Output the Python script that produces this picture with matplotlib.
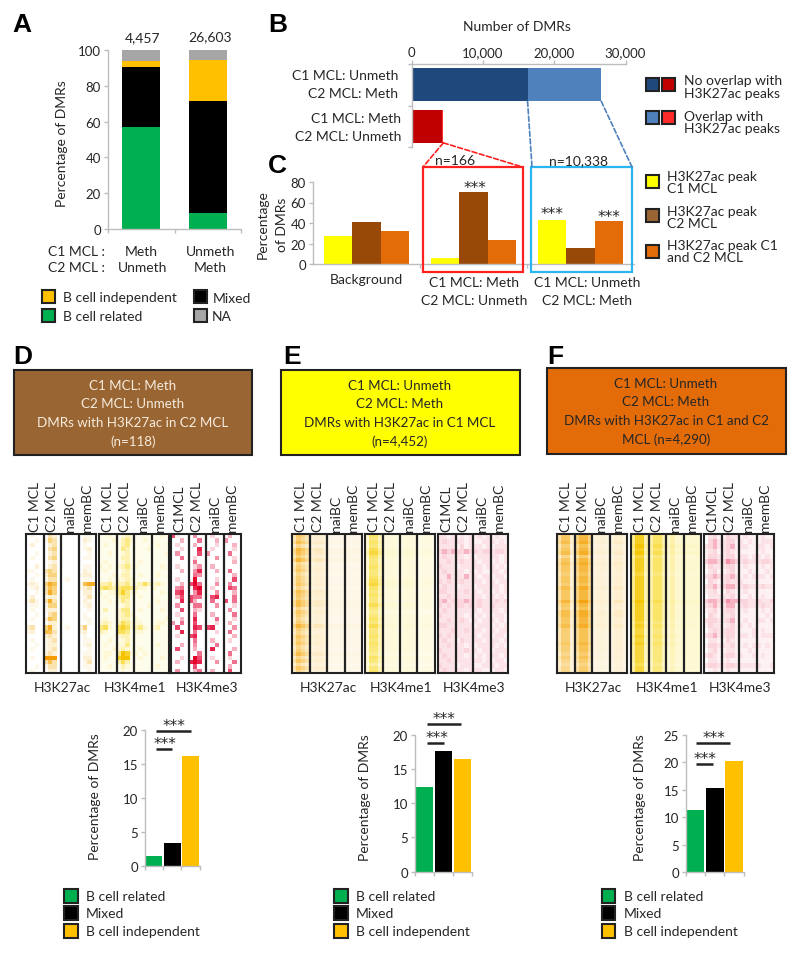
import numpy as np
import matplotlib
matplotlib.use('Agg')
import matplotlib.pyplot as plt
from matplotlib.colors import LinearSegmentedColormap
from matplotlib.patches import Rectangle, ConnectionPatch

plt.rcParams['font.family'] = ['Lato', 'DejaVu Sans']

W, H = 800, 954
TXT = '#262626'
AXC = '#BDBDBD'
GREEN, BLACK, GOLD, GRAY = '#00B050', '#000000', '#FFC000', '#A6A6A6'
YEL, BROWN, ORNG = '#FFFF00', '#984807', '#E36C09'

# Panel A
a_related = [57.2, 8.8]
a_mixed = [33.5, 62.5]
a_indep = [3.3, 23.3]
a_na = [6.0, 5.4]
a_totals = ['4,457', '26,603']

# Panel B
b_no_overlap = [16265, 4291]
b_overlap = [10338, 166]
b_ticks = [0, 10000, 20000, 30000]
b_ticklabels = ['0', '10,000', '20,000', '30,000']

# Panel C
c_peak_c1 = [27.2, 5.8, 43.4]
c_peak_c2 = [40.8, 70.6, 15.5]
c_peak_both = [31.8, 23.3, 41.5]

# bottom bars
d_bars = [1.46, 3.37, 16.2]
e_bars = [12.36, 17.57, 16.5]
f_bars = [11.26, 15.25, 20.16]

# heatmap cells for panel D, 4 cells across each of the 4 tracks, read by eye
D_K27AC = [
    "0100 0320 0000 0110", "0010 1430 0000 0210", "0200 0230 0000 0100", "0000 0340 0000 0120",
    "0010 0230 0000 0010", "0100 0340 0000 0110", "0000 0120 0000 0000", "0020 0230 0000 0110",
    "1100 3430 0000 0210", "0010 2440 0000 1220", "0100 1330 0100 0110", "1210 4650 0000 1566",
    "0120 3540 0000 1230", "0010 3640 0000 0220", "0200 1220 0000 0130", "1310 3630 0000 0210",
    "0110 1440 0000 0120", "0100 1220 0000 0010", "0010 0340 0000 0100", "0100 2540 0000 0110",
    "0000 0220 0000 0010", "2300 4620 0100 2400", "1200 5530 0000 1200", "0000 2320 0000 0100",
    "0100 1230 0000 0110", "0010 1220 0000 0120", "0100 1230 0000 0010", "0000 2320 0000 0110",
    "0100 7970 0000 0220", "0000 3530 0000 0130", "0010 1330 0000 0110", "0100 0220 0000 0010",
]
D_K4ME1 = [
    "1121 1232 1111 1121", "1112 1342 1121 1111", "1211 1341 1111 1211", "1111 1431 1112 1111",
    "1121 1231 1111 1112", "1111 1331 1111 1111", "1211 1231 1211 1111", "2121 2342 2111 1121",
    "1211 1231 1111 1111", "1112 1331 1211 1211", "1121 2232 1111 1111", "3342 3342 2353 2321",
    "4543 4554 3221 2111", "2122 4642 2111 1121", "1211 3441 1211 1111", "1121 2431 1111 1211",
    "1111 1231 1112 1111", "1311 2441 1211 1121", "1111 2342 1111 1111", "1211 2331 2111 1112",
    "2321 3542 2211 1221", "4521 5652 3421 2311", "3211 5541 2211 1111", "1111 2331 1111 1111",
    "1121 1231 1111 1111", "1211 2241 1111 1211", "1112 2321 1211 1111", "1221 4762 2121 1111",
    "1211 6871 1211 1121", "1111 3531 1111 1111", "1121 1321 1111 1211", "1111 1211 1111 1111",
]
D_K4ME3 = [
    "7100 0500 0300 0400", "0040 0060 0040 5000", "0300 0400 0030 0040", "0030 0080 0300 0030",
    "0500 0070 5000 0600", "0060 0300 0050 0030", "0000 0600 0000 0040", "0300 0350 0400 0000",
    "0040 0580 0040 0600", "0000 0650 0000 0040", "0300 0900 0030 0070", "0040 7960 0050 0500",
    "0560 0890 0300 0760", "0780 0580 0050 0040", "0470 7660 0780 0060", "0080 7400 0600 7060",
    "0500 0660 0050 0030", "0070 0430 0000 0500", "0300 0600 0400 0060", "0040 0800 0060 0030",
    "5060 0700 0030 0400", "0700 0870 7800 0050", "0080 0600 0030 0600", "0300 7800 0000 0040",
    "0000 0600 0400 0300", "0040 0500 0060 0000", "0700 0400 0800 0040", "0000 0060 0000 0600",
    "0030 0970 0300 0300", "0400 8980 0050 0060", "0000 0700 0000 0400", "0500 0460 0400 0700",
]

# panels E and F, level across the tracks and strength down the rows
E_K27AC_COLS = [4, 6, 5, 4, 2.5, 3, 3, 2.5, 1.5, 1.5, 1.5, 1.5, 1.5, 1.5, 1.5, 1.5]
E_K27AC_ROWS = [1.0, .9, 1.1, .8, 1.2, 1.1, .9, 1.2, .8, .9, 1.0, .8, .9, .9, 1.0, .8, 1.1, 1.0, .9, 1.1,
                1.1, .8, 1.0, .9, .8, .9, 1.2, .9, .8, 1.0, .9, 1.0, .8, .9, 1.1, .8, 1.0, .7, 1.0, .8]
E_K4ME1_COLS = [3, 6, 6, 4, 2, 2.5, 2.5, 2, 2, 2.5, 2.5, 2, 1.5, 2, 2, 1.5]
E_K4ME1_ROWS = [1.0, .9, 1.0, .9, 1.1, 1.2, 1.0, .9, .9, 1.0, .9, .9, 1.0, 1.1, 1.2, 1.0, .9, 1.0, .9, .9,
                1.1, .9, .8, .9, 1.0, .9, 1.1, .9, .9, 1.0, .9, 1.0, .9, .9, .8, 1.0, .9, .7, .9, 1.0]
F_K27AC_COLS = [4, 6, 6, 3, 5, 7, 7, 5, 2, 2.5, 2.5, 2, 2, 3, 3, 2]
F_K27AC_ROWS = [1.0, 1.0, 1.1, .9, 1.0, 1.1, .8, 1.0, 1.1, 1.0, 1.0, .9, 1.0, 1.0, .9, 1.1, 1.0, 1.0, 1.0, 1.2,
                1.0, .9, 1.1, 1.1, 1.0, 1.0, 1.1, .9, .9, .9, .9, 1.0, .9, .9, .8, .9, .8, .7, .8, .8]
F_K4ME1_COLS = [5, 8, 8, 4, 4, 6, 6, 4, 3, 4, 3, 3, 3, 3, 3, 3]
F_K4ME1_ROWS = [1.0, 1.0, 1.0, 1.1, 1.0, 1.1, .9, 1.0, 1.0, 1.0, 1.0, .9, 1.0, 1.0, 1.0, 1.0, 1.0, 1.0, 1.0, 1.1,
                1.0, 1.0, 1.0, 1.0, 1.0, .9, 1.0, .9, .9, 1.0, .9, 1.0, .9, .9, .9, .9, .9, .8, .9, .9]
E_K4ME3 = [
    "2212 1212 1212 1211", "2322 2212 1122 2121", "2222 1312 2212 1222", "3434 3343 3233 2332",
    "2322 2212 1222 2212", "2232 2322 2122 1212", "3222 1222 2212 2121", "2322 2212 1211 2212",
    "2242 2242 2122 1221", "3232 2322 2212 2122", "2322 1222 1222 2212", "3322 2232 2122 1212",
    "2232 2222 2212 2121", "3423 3343 2322 2323", "3232 3323 2322 3222", "2322 2222 2122 2212",
    "3222 2212 1212 1221", "2232 2321 2122 2121", "3322 2222 1222 1212", "2223 2232 2212 2122",
    "3232 2222 2122 1221", "2322 1322 2212 2212", "2232 2212 1222 2121", "3222 2232 2122 1222",
    "2322 2212 1212 2212", "2232 2222 2212 1221", "3222 1222 1122 2122", "2322 2212 2211 1221",
]
F_K4ME3 = [
    "0231 1322 1211 1211", "0342 2331 2121 1222", "2342 2341 2211 2212", "1231 2321 1111 1211",
    "1332 2331 2212 2121", "3443 3543 2322 2332", "1322 2331 1211 1212", "0231 1231 1121 1121",
    "2343 2342 1212 2212", "0321 2322 2111 1111", "2342 3442 2322 2322", "1231 1321 1211 1111",
    "0222 2231 1121 1211", "3443 3544 3322 3223", "2342 2441 2322 2322", "1231 2331 1211 1212",
    "0321 2231 1111 1121", "2332 2341 1211 2212", "1322 1231 2121 1111", "0232 2331 1112 1211",
    "2342 2331 2212 1222", "0221 1321 1111 1111", "1332 2231 1212 2121", "0231 1221 1121 1111",
    "2321 2331 2112 1211", "0221 1211 1111 1111", "2332 2332 2222 2112", "0121 1211 1111 1111",
]

blocks = ['H3K27ac', 'H3K4me1', 'H3K4me3']
track_names = [['C1 MCL', 'C2 MCL', 'naiBC', 'memBC'],
               ['C1 MCL', 'C2 MCL', 'naiBC', 'memBC'],
               ['C1MCL', 'C2 MCL', 'naiBC', 'memBC']]

cmaps = [LinearSegmentedColormap.from_list('k27', ['#FFFFFF', '#FDEFCF', '#F9C860', '#F59A00']),
         LinearSegmentedColormap.from_list('k4m1', ['#FFFFFF', '#FEF8D0', '#FBE568', '#F5C400']),
         LinearSegmentedColormap.from_list('k4m3', ['#FFFFFF', '#FBD5DC', '#F07090', '#E4002B'])]


def digits(rows):
    return np.array([[int(c) for c in r.replace(' ', '')] for r in rows], dtype=float)


def product(cols, rows):
    return np.outer(rows, cols)


def ax_px(x0, y0, x1, y1):
    return fig.add_axes([x0 / W, 1 - y1 / H, (x1 - x0) / W, (y1 - y0) / H])


def clean(ax, sides=('left', 'bottom')):
    for s in ax.spines:
        ax.spines[s].set_visible(s in sides)
        ax.spines[s].set_color(AXC)
        ax.spines[s].set_linewidth(1.0)
    ax.tick_params(color=AXC, labelcolor=TXT, labelsize=9.5, length=3, width=1, pad=2)


fig = plt.figure(figsize=(W / 100, H / 100), dpi=100)
ov = fig.add_axes([0, 0, 1, 1], zorder=10)
ov.set_xlim(0, W)
ov.set_ylim(H, 0)
ov.axis('off')
ov.patch.set_alpha(0)


def txt(x, y, s, ha='left', size=10, color=TXT, **kw):
    ov.text(x, y, s, ha=ha, va='center', fontsize=size, color=color, **kw)


def swatch(x, y, color, w=13, h=13):
    ov.add_patch(Rectangle((x, y), w, h, facecolor=color, edgecolor='#222222', lw=1.5))


def stars(x, y):
    # drop the glyph a bit, it sits high in the line
    txt(x, y + 1.5, '***', ha='center', size=11, family='DejaVu Sans')


for lab, x, y in [('A', 12, 25), ('B', 268, 25), ('C', 268, 166), ('D', 13, 357), ('E', 283, 357), ('F', 547, 357)]:
    txt(x, y, lab, size=19, color='black', fontweight='bold', family='Liberation Sans')

# A
ax = ax_px(108, 51, 241, 230)
pos = np.arange(2)
bottom = np.zeros(2)
for vals, col in [(a_related, GREEN), (a_mixed, BLACK), (a_indep, GOLD), (a_na, GRAY)]:
    ax.bar(pos, vals, 0.57, bottom=bottom, color=col)
    bottom += np.array(vals)
ax.set_xlim(-0.5, 1.5)
ax.set_ylim(0, 100)
ax.set_yticks([0, 20, 40, 60, 80, 100])
ax.set_xticks([-0.5, 0.5, 1.5])
ax.set_xticklabels([])
clean(ax)
txt(62, 144, 'Percentage of DMRs', ha='center', rotation=90)
txt(143, 38, a_totals[0], ha='center')
txt(210, 37, a_totals[1], ha='center')
txt(48, 252, 'C1 MCL :')
txt(48, 268, 'C2 MCL :')
txt(141, 252, 'Meth', ha='center')
txt(143, 268, 'Unmeth', ha='center')
txt(211, 252, 'Unmeth', ha='center')
txt(210, 268, 'Meth', ha='center')
swatch(42, 291, GOLD)
swatch(42, 310, GREEN)
swatch(193.5, 291, BLACK)
swatch(193.5, 310, GRAY)
txt(63, 298, 'B cell independent')
txt(63, 317, 'B cell related')
txt(213, 299, 'Mixed')
txt(212, 317, 'NA')

# B
ax_b = ax_px(411.6, 65, 625.5, 148)
ax_b.barh([0, 1], b_no_overlap, 0.8, color=['#1F497D', '#C00000'])
ax_b.barh([0, 1], b_overlap, 0.8, left=b_no_overlap, color=['#4F81BD', '#FF2A2A'])
ax_b.set_xlim(0, 30000)
ax_b.set_ylim(1.5, -0.5)
ax_b.set_xticks(b_ticks)
ax_b.set_xticklabels(b_ticklabels)
ax_b.set_yticks([-0.5, 0.5, 1.5])
ax_b.set_yticklabels([])
clean(ax_b, ('left', 'top'))
ax_b.xaxis.tick_top()
ax_b.tick_params(axis='x', pad=1)
txt(517, 27, 'Number of DMRs', ha='center')
txt(398, 76, 'C1 MCL: Unmeth', ha='right')
txt(398, 94, 'C2 MCL: Meth', ha='right')
txt(401, 119, 'C1 MCL: Meth', ha='right')
txt(401, 137, 'C2 MCL: Unmeth', ha='right')
swatch(645.5, 79, '#1F497D')
swatch(662, 79, '#C00000')
swatch(645.5, 112, '#4F81BD')
swatch(662, 112, '#FF2A2A')
for y, s in [(81, 'No overlap with'), (94, 'H3K27ac peaks'), (117, 'Overlap with'), (129, 'H3K27ac peaks')]:
    txt(684, y, s)

# C
ax_c = ax_px(313, 183, 634, 265)
pos = np.arange(3)
for off, vals, col in [(-0.267, c_peak_c1, YEL), (0, c_peak_c2, BROWN), (0.267, c_peak_both, ORNG)]:
    ax_c.bar(pos + off, vals, 0.267, color=col)
ax_c.set_xlim(-0.5, 2.5)
ax_c.set_ylim(0, 80)
ax_c.set_yticks([0, 20, 40, 60, 80])
ax_c.set_xticks([0.5, 1.5])
ax_c.set_xticklabels([])
clean(ax_c)
txt(263, 225, 'Percentage', ha='center', rotation=90)
txt(282, 225, 'of DMRs', ha='center', rotation=90)
txt(366, 280, 'Background', ha='center')
txt(474, 283, 'C1 MCL: Meth', ha='center')
txt(474, 301, 'C2 MCL: Unmeth', ha='center')
txt(587, 283, 'C1 MCL: Unmeth', ha='center')
txt(587, 301, 'C2 MCL: Meth', ha='center')
txt(455, 161, 'n=166', ha='center')
txt(579, 161, 'n=10,338', ha='center')
for x, y in [(475, 187), (552, 213), (609, 216)]:
    stars(x, y)
ov.add_patch(Rectangle((423, 168), 99.5, 105, fill=False, edgecolor='#FF2020', lw=1.6))
ov.add_patch(Rectangle((531, 168), 101, 105, fill=False, edgecolor='#29B5F0', lw=1.6))
y_top = 0.4
y_bot = 1.4
links = [((sum([b_no_overlap[1], b_overlap[1]]), y_bot), (423, 168), '#FF2020'),
         ((sum([b_no_overlap[1], b_overlap[1]]), y_bot), (522.5, 168), '#FF2020'),
         ((b_no_overlap[0], y_top), (532, 168), '#4F81BD'),
         ((b_no_overlap[0] + b_overlap[0], y_top), (632, 168), '#4F81BD')]
for xy_a, xy_b, col in links:
    ov.add_artist(ConnectionPatch(xy_a, xy_b, coordsA=ax_b.transData, coordsB=ov.transData,
                                  color=col, lw=1.2, linestyle=(0, (3, 1.5))))
swatch(646, 176, YEL)
swatch(646, 209.5, '#996633')
swatch(646, 246, ORNG)
for y, s in [(177, 'H3K27ac peak'), (189, 'C1 MCL'), (212, 'H3K27ac peak'), (224, 'C2 MCL'),
             (246, 'H3K27ac peak C1'), (258, 'and C2 MCL')]:
    txt(667, y, s)

# headers
headers = [(13.5, 371, 238.5, 85, '#996633', '#F7EBDD',
            ['C1 MCL: Meth', 'C2 MCL: Unmeth', 'DMRs with H3K27ac in C2 MCL', '(n=118)'], 133),
           (281, 371, 239, 85, '#FFFF00', '#262626',
            ['C1 MCL: Unmeth', 'C2 MCL: Meth', 'DMRs with H3K27ac in C1 MCL', '(n=4,452)'], 400),
           (547, 369, 239, 86, ORNG, '#262626',
            ['C1 MCL: Unmeth', 'C2 MCL: Meth', 'DMRs with H3K27ac in C1 and C2', 'MCL (n=4,290)'], 666)]
for x, y, w, h, fc, tc, lines, cx in headers:
    ov.add_patch(Rectangle((x, y), w, h, facecolor=fc, edgecolor='#222222', lw=1.5))
    for i, s in enumerate(lines):
        txt(cx, y + 15 + i * 18.5, s, ha='center', color=tc, size=9.6)

# heatmaps, panel D is sparse so its colour scale tops out lower
panels = [
    ([26, 99, 171], [digits(D_K27AC), digits(D_K4ME1), digits(D_K4ME3)], [7, 7, 9]),
    ([292, 365, 438], [product(E_K27AC_COLS, E_K27AC_ROWS), product(E_K4ME1_COLS, E_K4ME1_ROWS), digits(E_K4ME3)], [9, 9, 9]),
    ([557, 631, 704], [product(F_K27AC_COLS, F_K27AC_ROWS), product(F_K4ME1_COLS, F_K4ME1_ROWS), digits(F_K4ME3)], [9, 9, 9]),
]
for lefts, grids, tops in panels:
    for b, (x0, grid) in enumerate(zip(lefts, grids)):
        hm = ax_px(x0, 535, x0 + 70, 674)
        hm.imshow(grid, cmap=cmaps[b], vmin=0, vmax=tops[b], aspect='auto', interpolation='nearest',
                  extent=(0, 4, 1, 0))
        hm.set_xticks([])
        hm.set_yticks([])
        for i in [1, 2, 3]:
            hm.axvline(i, color='#222222', lw=1.6)
        for s in hm.spines.values():
            s.set_color('#222222')
            s.set_linewidth(1.5)
        for i, name in enumerate(track_names[b]):
            ov.text(x0 + 8.75 + i * 17.5, 532, name, rotation=90, ha='center', va='bottom',
                    fontsize=10, color=TXT)
        txt(x0 + 36, 688, blocks[b], ha='center')

# bottom bars
charts = [
    (d_bars, (145, 731, 199.5, 867), 20, (95, 797), 64, 86,
     [(156, 172, 750, 165, 743), (156, 191, 732, 174, 725)]),
    (e_bars, (415, 735.7, 472, 872.7), 20, (365, 798), 334, 356,
     [(427, 444, 744, 437, 737), (427, 460.5, 725, 443.6, 718)]),
    (f_bars, (686, 735.7, 743.5, 873), 25, (640, 798), 601.5, 623.5,
     [(696, 713, 765, 705, 758), (696, 730, 744, 714, 737)]),
]
for vals, rect, top, lab, sw_x, tx_x, sig in charts:
    ax = ax_px(*rect)
    ax.bar(range(3), vals, 0.92, color=[GREEN, BLACK, GOLD])
    ax.set_xlim(-0.5, 2.5)
    ax.set_ylim(0, top)
    ax.set_yticks(np.arange(0, top + 1, 5))
    ax.set_xticks([-0.5, 0.5, 1.5, 2.5])
    ax.set_xticklabels([])
    clean(ax)
    txt(lab[0], lab[1], 'Percentage of DMRs', ha='center', rotation=90)
    for x0, x1, y, sx, sy in sig:
        ov.plot([x0, x1], [y, y], color='#222222', lw=1.8, solid_capstyle='butt')
        stars(sx, sy)
    swatch(sw_x, 890, GREEN, 13.5, 13.5)
    swatch(sw_x, 907, BLACK, 13.5, 13.5)
    swatch(sw_x, 925, GOLD, 13.5, 13.5)
    txt(tx_x, 897, 'B cell related')
    txt(tx_x, 914, 'Mixed')
    txt(tx_x, 932, 'B cell independent')

ov.set_xlim(0, W)
ov.set_ylim(H, 0)
fig.savefig('out.png', dpi=100)
